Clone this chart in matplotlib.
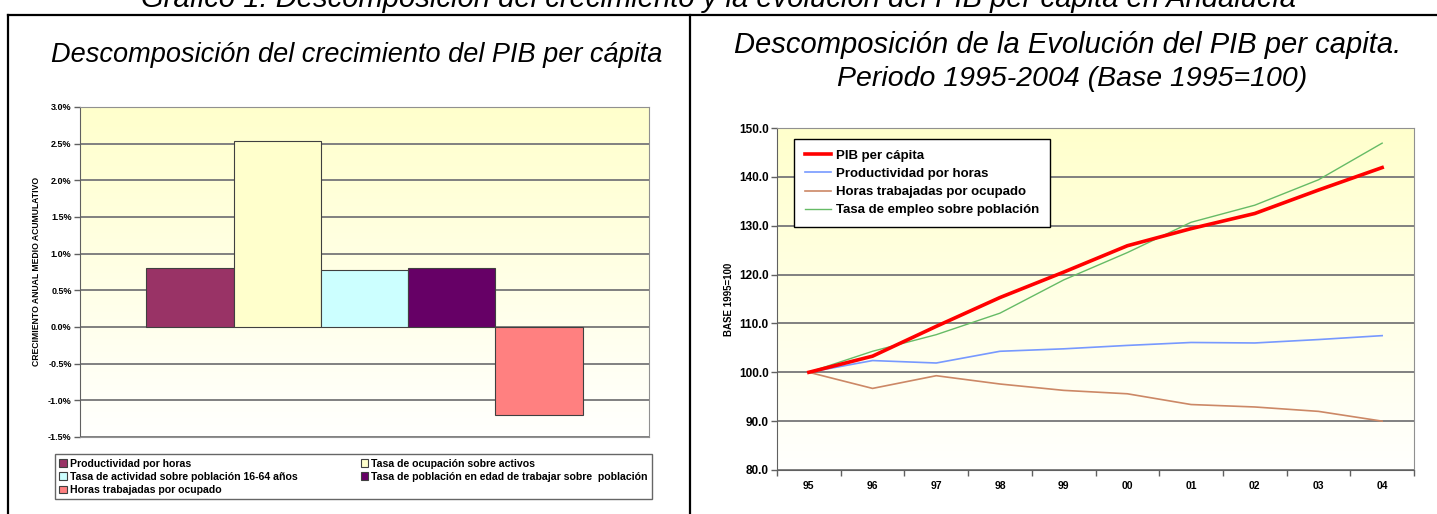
import numpy as np
import matplotlib
matplotlib.use('Agg')
import matplotlib.pyplot as plt
from matplotlib.lines import Line2D
from matplotlib.patches import Patch

plt.rcParams['font.family'] = ['Liberation Sans Narrow', 'Liberation Sans', 'DejaVu Sans']

# Left chart data: average annual cumulative growth (%)
bar_labels = ['Productividad por horas', 'Tasa de ocupación sobre activos',
              'Tasa de actividad sobre población 16-64 años',
              'Tasa de población en edad de trabajar sobre  población',
              'Horas trabajadas por ocupado']
bar_values = [0.81, 2.53, 0.78, 0.81, -1.20]
bar_colors = ['#993366', '#FFFFCC', '#CCFFFF', '#660066', '#FF8080']
pct_ticks = [-1.5, -1.0, -0.5, 0.0, 0.5, 1.0, 1.5, 2.0, 2.5, 3.0]

# Right chart data: index 1995 = 100
years = ['95', '96', '97', '98', '99', '00', '01', '02', '03', '04']
pib_pc = [100.0, 103.3, 109.4, 115.3, 120.5, 125.9, 129.4, 132.5, 137.3, 141.9]
productividad = [100.0, 102.4, 101.9, 104.3, 104.8, 105.5, 106.1, 106.0, 106.7, 107.5]
horas = [100.0, 96.7, 99.3, 97.6, 96.3, 95.6, 93.4, 92.9, 92.0, 90.0]
tasa_empleo = [100.0, 104.3, 107.7, 112.1, 118.9, 124.5, 130.7, 134.2, 139.4, 146.9]
idx_ticks = [80, 90, 100, 110, 120, 130, 140, 150]

W, H = 1437, 514
fig = plt.figure(figsize=(W / 100, H / 100), dpi=100)


def fx(px):
    return px / W


def fy(py):
    return 1 - py / H


def gradient_bg(ax):
    top = np.array([1.0, 1.0, 0.80])
    bottom = np.array([1.0, 1.0, 0.995])
    t = np.linspace(0, 1, 256)[:, None]
    img = top * (1 - t) + bottom * t
    ax.imshow(img[:, None, :], extent=[0, 1, 0, 1], transform=ax.transAxes,
              aspect='auto', zorder=0)


tick_font = dict(size=6.5, weight='bold')

# ---- outer frame ----
fig.add_artist(Line2D([fx(8), fx(8)], [0, fy(15)], color='black', lw=1.6))
fig.add_artist(Line2D([fx(690), fx(690)], [0, fy(15)], color='black', lw=1.6))
fig.add_artist(Line2D([fx(8), 1], [fy(15), fy(15)], color='black', lw=1.6))

fig.text(0.5, fy(7), 'Gráfico 1. Descomposición del crecimiento y la evolución del PIB per cápita en Andalucía',
         ha='center', va='baseline', style='italic', size=21)

# ---- left chart ----
fig.text(fx(357), fy(55), 'Descomposición del crecimiento del PIB per cápita',
         ha='center', va='center', style='italic', size=19.5)

ax1 = fig.add_axes([fx(80), fy(437), fx(649 - 80), (437 - 107) / H])
gradient_bg(ax1)
xpos = np.arange(len(bar_values))
bars = ax1.bar(xpos, bar_values, width=1.0, color=bar_colors,
               edgecolor='#404040', linewidth=0.8, zorder=3)
gap = 0.76
ax1.set_xlim(-0.5 - gap, len(bar_values) - 0.5 + gap)
ax1.set_ylim(-1.5, 3.0)
ax1.set_yticks(pct_ticks)
ax1.set_yticklabels([f'{v:.1f}%' for v in pct_ticks], **tick_font)
ax1.set_xticks([])
for v in pct_ticks:
    ax1.axhline(v, color='#808080', lw=1.4, zorder=1)
for s in ax1.spines.values():
    s.set_color('#909090')
ax1.spines['left'].set_color('#606060')
ax1.tick_params(axis='y', length=4, width=1, color='#606060', pad=2)
fig.text(fx(37), fy(271), 'CRECIMIENTO ANUAL MEDIO ACUMULATIVO', rotation=90,
         ha='center', va='center', size=6.2, weight='bold')

order = [0, 2, 4, 1, 3]
handles = [Patch(facecolor=bar_colors[i], edgecolor='#404040', linewidth=0.8) for i in order]
fig.legend(handles, [bar_labels[i] for i in order], ncol=2, mode='expand',
           loc='upper left', bbox_to_anchor=(fx(55), fy(455), fx(652 - 55), 0.001),
           prop=dict(size=7.6, weight='bold'), frameon=True, fancybox=False,
           edgecolor='#404040', handlelength=0.7, handleheight=0.7,
           handletextpad=0.3, labelspacing=0.3, borderpad=0.4, borderaxespad=0)

# ---- right chart ----
fig.text(fx(1068), fy(45), 'Descomposición de la Evolución del PIB per capita.',
         ha='center', va='center', style='italic', size=21)
fig.text(fx(1072), fy(79), 'Periodo 1995-2004 (Base 1995=100)',
         ha='center', va='center', style='italic', size=20.5)

ax2 = fig.add_axes([fx(777), fy(470), fx(1414 - 777), (470 - 128) / H])
gradient_bg(ax2)
xi = np.arange(len(years))
ax2.plot(xi, pib_pc, color='#FF0000', lw=2.6, label='PIB per cápita', zorder=4)
ax2.plot(xi, productividad, color='#7799FF', lw=1.2, label='Productividad por horas', zorder=3)
ax2.plot(xi, horas, color='#CC8866', lw=1.2, label='Horas trabajadas por ocupado', zorder=3)
ax2.plot(xi, tasa_empleo, color='#66BB66', lw=1.0, label='Tasa de empleo sobre población', zorder=3)
ax2.set_xlim(-0.5, len(years) - 0.5)
ax2.set_ylim(80, 150)
ax2.set_yticks(idx_ticks)
ax2.set_yticklabels([f'{v:.1f}' for v in idx_ticks], size=8.5, weight='bold')
ax2.set_xticks(xi)
ax2.set_xticklabels(years, size=7.5, weight='bold')
ax2.set_xticks(np.arange(-0.5, len(years)), minor=True)
ax2.tick_params(axis='x', which='major', length=0, pad=8)
ax2.tick_params(axis='x', which='minor', length=4, width=1, color='#606060')
ax2.tick_params(axis='y', length=4, width=1, color='#606060', pad=2)
for v in idx_ticks:
    ax2.axhline(v, color='#808080', lw=1.4, zorder=1)
for s in ax2.spines.values():
    s.set_color('#909090')
ax2.spines['left'].set_color('#606060')
ax2.spines['bottom'].set_color('#606060')
fig.text(fx(729), fy(299), 'BASE 1995=100', rotation=90,
         ha='center', va='center', size=7, weight='bold')
ax2.legend(loc='upper left', bbox_to_anchor=((794 - 777) / 637, 1 - (139 - 128) / 342),
           prop=dict(size=9.5, weight='bold'), frameon=True, fancybox=False,
           edgecolor='black', framealpha=1, handlelength=2.0, handletextpad=0.4,
           labelspacing=0.45, borderpad=0.8, borderaxespad=0)

fig.savefig('out.png', dpi=100)
